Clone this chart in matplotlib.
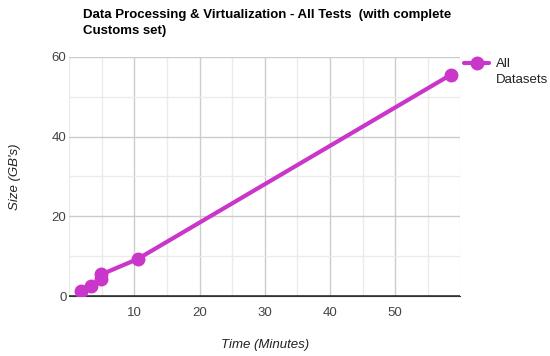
import matplotlib
matplotlib.use("Agg")
import matplotlib.pyplot as plt
import numpy as np
from matplotlib.legend_handler import HandlerLine2D

# data
time_min = [1.8, 3.4, 4.9, 4.9, 10.5, 58.5]
size_gb = [1.2, 2.5, 4.2, 5.4, 9.3, 55.5]
x_ticks = [10, 20, 30, 40, 50]
y_ticks = [0, 20, 40, 60]

plt.rcParams["font.family"] = ["Liberation Sans", "DejaVu Sans"]
color = "#c936c9"


class TopLineHandler(HandlerLine2D):
    """puts the legend marker next to the first line of a two-line label"""
    def create_artists(self, legend, orig_handle, xdescent, ydescent,
                       width, height, fontsize, trans):
        arts = super().create_artists(legend, orig_handle, xdescent, ydescent,
                                      width, height, fontsize, trans)
        for a in arts:
            a.set_ydata(np.asarray(a.get_ydata()) + height * 1.0)
        return arts


fig = plt.figure(figsize=(5.5, 3.56), dpi=100)
ax = fig.add_axes([0.126, 0.1685, 0.711, 0.6715])

line, = ax.plot(time_min, size_gb, color=color, lw=3, marker="o", ms=9,
                label="All\nDatasets", solid_capstyle="round", zorder=3)

ax.set_xlim(0, 60)
ax.set_ylim(0, 60)
ax.set_xticks(x_ticks)
ax.set_yticks(y_ticks)
ax.set_xticks(range(0, 61, 5), minor=True)
ax.set_yticks(range(0, 61, 10), minor=True)
ax.grid(which="major", color="#cccccc", lw=1)
ax.grid(which="minor", color="#ebebeb", lw=1)
ax.tick_params(which="both", length=0, labelsize=9.5, labelcolor="#444444")
ax.tick_params(axis="x", pad=8)
ax.tick_params(axis="y", pad=2)
for s in ["top", "right", "left"]:
    ax.spines[s].set_visible(False)
ax.spines["bottom"].set_color("#333333")
ax.axhline(0, color="#333333", lw=1.2, zorder=2)

ax.set_xlabel("Time (Minutes)", style="italic", color="#222222", fontsize=9.5, labelpad=14)
ax.set_ylabel("Size (GB's)", style="italic", color="#222222", fontsize=9.5, labelpad=22)

fig.text(0.151, 0.975, "Data Processing & Virtualization - All Tests  (with complete\nCustoms set)",
         fontsize=9.5, fontweight="bold", color="#000000", va="top", ha="left", linespacing=1.5)

leg = ax.legend(loc="upper left", bbox_to_anchor=(0.99, 1.03), frameon=False,
                fontsize=9.5, handlelength=1.9, handletextpad=0.5,
                borderaxespad=0.2, labelcolor="#222222",
                handler_map={line: TopLineHandler()})
for t in leg.get_texts():
    t.set_linespacing(1.5)

fig.savefig("out.png", dpi=100)
